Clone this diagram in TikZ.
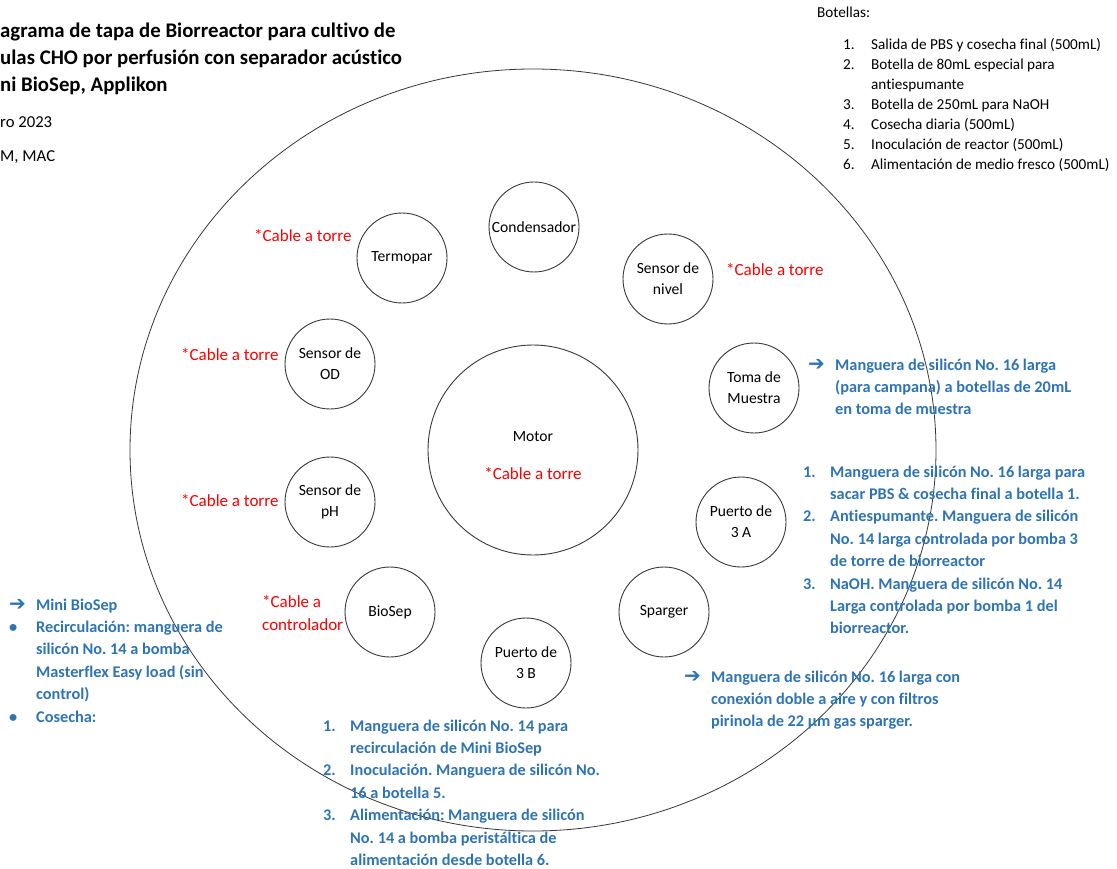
\documentclass[tikz,border=0pt]{standalone}
\usepackage{fontspec}
\setmainfont{Carlito}[Ligatures=CommonOff]
\newfontfamily\arrowfont{DejaVu Sans}
\usepackage{xcolor}
\usetikzlibrary{positioning}
\definecolor{HoseBlue}{RGB}{46, 116, 181}
\definecolor{CableRed}{RGB}{255, 0, 0}
\definecolor{RimGray}{RGB}{55, 55, 55}

\newcommand{\hosearrow}{{\arrowfont\bfseries\fontsize{20}{20}\selectfont\char"2794}}

\tikzset{
  port/.style={circle, draw=RimGray, line width=0.9pt, minimum size=90pt, inner sep=0pt, align=center, font=\fontsize{15.6}{21}\selectfont},
  cablenote/.style={text=CableRed, anchor=west, inner sep=0pt, align=left, font=\fontsize{17}{23}\selectfont},
  hosenote/.style={text=HoseBlue, anchor=base west, inner sep=0pt, font=\bfseries\fontsize{16.3}{22.4}\selectfont},
  plainnote/.style={anchor=base west, inner sep=0pt, align=left},
}

\begin{document}
\frenchspacing
\begin{tikzpicture}[x=1pt, y=-1pt]
  \useasboundingbox (0,0) rectangle (1117,869);

  % tapa del biorreactor
  \draw[RimGray, line width=0.8pt] (533,450) ellipse [x radius=403pt, y radius=381pt];

  % titulo y datos
  \node[plainnote, font=\bfseries\fontsize{20.8}{27}\selectfont] (title) at (0,92)
    {agrama de tapa de Biorreactor para cultivo de\\ulas CHO por perfusión con separador acústico\\ni BioSep, Applikon};
  \node[plainnote, font=\fontsize{16.7}{18}\selectfont] (date) at (0,128) {ro 2023};
  \node[plainnote, font=\fontsize{16.7}{18}\selectfont] (authors) at (0,162) {M, MAC};

  % botellas
  \node[plainnote, font=\fontsize{15.2}{20}\selectfont] (bottlehead) at (817,18) {Botellas:};
  \node[plainnote, font=\fontsize{15.2}{19.9}\selectfont] (bottles) at (843,50)
    {\begin{tabular}[t]{@{}p{28pt}@{}l@{}}
      1. & Salida de PBS y cosecha final (500mL)\\
      2. & Botella de 80mL especial para\\
         & antiespumante\\
      3. & Botella de 250mL para NaOH\\
      4. & Cosecha diaria (500mL)\\
      5. & Inoculación de reactor (500mL)\\
      6. & Alimentación de medio fresco (500mL)
    \end{tabular}};

  % puertos
  \node[port] (cond) at (534,227) {Condensador};
  \node[port] (termo) at (402,258) {Termopar};
  \node[port] (nivel) at (668,279) {Sensor de\\nivel};
  \node[port] (od) at (330,364) {Sensor de\\OD};
  \node[port] (muestra) at (754,388) {Toma de\\Muestra};
  \node[port, minimum size=210pt] (motor) at (533,450)
    {\rule{0pt}{22pt}Motor\\[17pt]\textcolor{CableRed}{\fontsize{17}{18}\selectfont *Cable a torre}};
  \node[port] (ph) at (330,502) {Sensor de\\pH};
  \node[port] (trea) at (741,522) {Puerto de\\3 A};
  \node[port] (biosep) at (390,612) {BioSep};
  \node[port] (sparger) at (664,612) {Sparger};
  \node[port] (treb) at (526,663) {Puerto de\\3 B};

  % cables
  \node[cablenote] (termocable) at (254,236) {*Cable a torre};
  \node[cablenote] (nivelcable) at (726,270) {*Cable a torre};
  \node[cablenote] (odcable) at (181,355) {*Cable a torre};
  \node[cablenote] (phcable) at (181,501) {*Cable a torre};
  \node[cablenote] (biosepcable) at (262,613) {*Cable a\\controlador};

  % mangueras
  \node[hosenote] (muestrahose) at (808,370)
    {\begin{tabular}[t]{@{}p{27pt}@{}l@{}}
      \hosearrow & Manguera de silicón No. 16 larga\\
                 & (para campana) a botellas de 20mL\\
                 & en toma de muestra
    \end{tabular}};
  \node[hosenote] (treahose) at (803,477)
    {\begin{tabular}[t]{@{}p{27pt}@{}l@{}}
      1. & Manguera de silicón No. 16 larga para\\
         & sacar PBS \& cosecha final a botella 1.\\
      2. & Antiespumante. Manguera de silicón\\
         & No. 14 larga controlada por bomba 3\\
         & de torre de biorreactor\\
      3. & NaOH. Manguera de silicón No. 14\\
         & Larga controlada por bomba 1 del\\
         & biorreactor.
    \end{tabular}};
  \node[hosenote] (spargerhose) at (684,682)
    {\begin{tabular}[t]{@{}p{27pt}@{}l@{}}
      \hosearrow & Manguera de silicón No. 16 larga con\\
                 & conexión doble a aire y con filtros\\
                 & pirinola de 22 µm gas sparger.
    \end{tabular}};
  \node[hosenote] (trebhose) at (323,731)
    {\begin{tabular}[t]{@{}p{27pt}@{}l@{}}
      1. & Manguera de silicón No. 14 para\\
         & recirculación de Mini BioSep\\
      2. & Inoculación. Manguera de silicón No.\\
         & 16 a botella 5.\\
      3. & Alimentación: Manguera de silicón\\
         & No. 14 a bomba peristáltica de\\
         & alimentación desde botella 6.
    \end{tabular}};
  \node[hosenote] (biosephose) at (9,610)
    {\begin{tabular}[t]{@{}p{27pt}@{}l@{}}
      \hosearrow & Mini BioSep\\
      • & Recirculación: manguera de\\
        & silicón No. 14 a bomba\\
        & Masterflex Easy load (sin\\
        & control)\\
      • & Cosecha:
    \end{tabular}};
\end{tikzpicture}
\end{document}
